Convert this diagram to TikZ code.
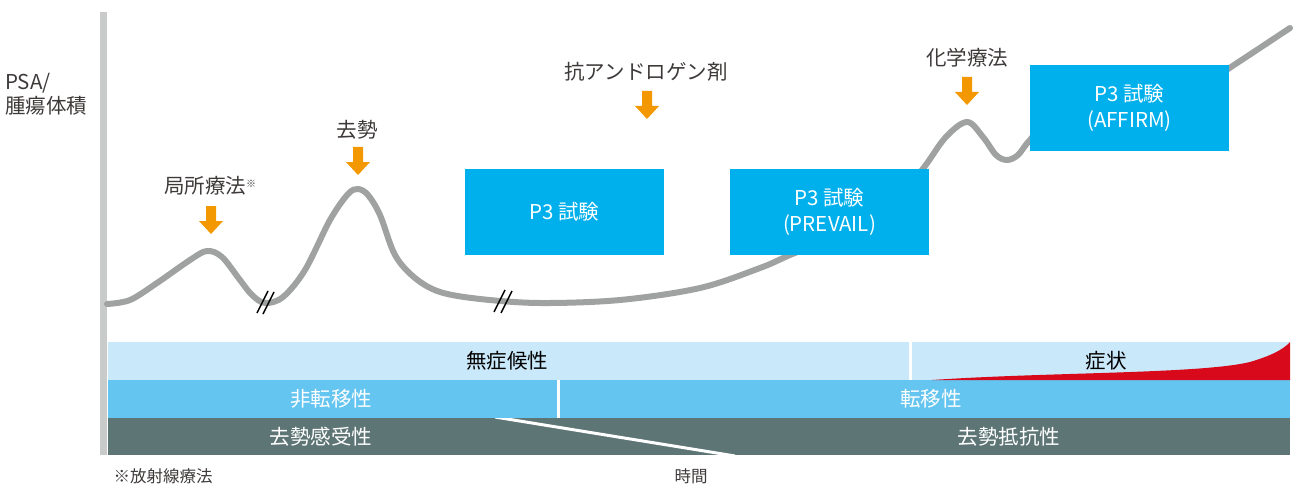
\documentclass[tikz,border=0pt]{standalone}
\usepackage{fontspec}
\setmainfont{Noto Sans CJK JP}
\definecolor{band1}{HTML}{C9E8F9}
\definecolor{band2}{HTML}{64C5F1}
\definecolor{band3}{HTML}{5E7576}
\definecolor{trialblue}{HTML}{00B0EC}
\definecolor{arroworange}{HTML}{F39800}
\definecolor{symred}{HTML}{D7091A}
\definecolor{curvegray}{HTML}{A0A2A2}
\definecolor{axisgray}{HTML}{C9CACA}
\definecolor{labelgray}{HTML}{3E3A39}
\begin{document}
\begin{tikzpicture}[x=1pt,y=-1pt,
  lbl/.style={font=\fontsize{20.5}{24}\selectfont, text=labelgray, inner sep=0pt},
  trial/.style={fill=trialblue, text=white, minimum width=199pt, minimum height=86pt, inner sep=0pt, align=center, font=\fontsize{20.5}{25.5}\selectfont},
  bandtxt/.style={font=\fontsize{20.5}{24}\selectfont, inner sep=0pt},
  foot/.style={font=\fontsize{16.5}{20}\selectfont, text=labelgray, inner sep=0pt},
  curve/.style={draw=curvegray, line width=6pt, line cap=round},
  brk/.style={draw=black, line width=1.4pt},
  pics/downarrow/.style={code={\fill[arroworange] (-5,0) -- (5,0) -- (5,15) -- (12,15) -- (0,28) -- (-12,15) -- (-5,15) -- cycle;}}
]
\useasboundingbox (0,0) rectangle (1293,484);
% axis
\fill[axisgray] (100,12) rectangle (107,455);
\node[lbl, anchor=west, align=left, font=\fontsize{20.5}{24}\selectfont] (ylab) at (5,94) {PSA/\\腫瘍体積};
% curve
\draw[curve] plot[smooth, tension=0.55] coordinates {(107,304) (130,300) (157,283) (190,260) (207,251) (222,257) (240,280) (252,295) (265,303) (283,297) (305,270) (330,220) (348,194) (358,189) (368,195) (380,215) (395,255) (415,278) (440,292) (480,299) (540,303) (620,300) (700,288) (760,268) (790,255) (860,225) (915,178) (945,138) (967,122) (983,137) (996,155) (1007,160) (1018,155) (1030,140) (1060,112) (1170,107) (1228,69) (1290,28)};
% break marks
\draw[brk] (257,313) -- (268,291);
\draw[brk] (263,314) -- (274,292);
\draw[brk] (494,312) -- (505,290);
\draw[brk] (501,313) -- (512,291);
% trial boxes
\node[trial] (t1) at (564.5,212) {P3 試験};
\node[trial] (t2) at (829.5,212) {P3 試験\\(PREVAIL)};
\node[trial] (t3) at (1129.5,108) {P3 試験\\(AFFIRM)};
% treatment labels and arrows
\node[lbl] (l1) at (210,186) {局所療法\raisebox{6pt}{\fontsize{10}{10}\selectfont ※}};
\pic at (211,206) {downarrow};
\node[lbl] (l2) at (357,130) {去勢};
\pic at (358,147) {downarrow};
\node[lbl] (l3) at (646,72) {抗アンドロゲン剤};
\pic at (647,91) {downarrow};
\node[lbl] (l4) at (967,58) {化学療法};
\pic at (967,77) {downarrow};
% bands
\fill[band1] (108,342) rectangle (1290,380);
\fill[band2] (108,380) rectangle (1290,418);
\fill[band3] (108,418) rectangle (1290,455);
\fill[symred] (932,380) .. controls (1050,372) and (1200,374) .. (1250,362) .. controls (1270,356) and (1283,350) .. (1290,342) -- (1290,380) -- cycle;
\fill[white] (909,342) rectangle (912,380);
\fill[white] (557,380) rectangle (560,418);
\begin{scope}
\clip (108,418) rectangle (1290,455);
\draw[white, line width=3pt] (495,417) -- (735,456);
\end{scope}
\node[bandtxt, text=black] (b1) at (507,361) {無症候性};
\node[bandtxt, text=black] (b2) at (1106,361) {症状};
\node[bandtxt, text=white] (b3) at (331,399) {非転移性};
\node[bandtxt, text=white] (b4) at (931,399) {転移性};
\node[bandtxt, text=white] (b5) at (321,437) {去勢感受性};
\node[bandtxt, text=white] (b6) at (1009,437) {去勢抵抗性};
% footer
\node[foot] (fn) at (163,476) {※放射線療法};
\node[foot] (time) at (691,476) {時間};
\end{tikzpicture}
\end{document}
